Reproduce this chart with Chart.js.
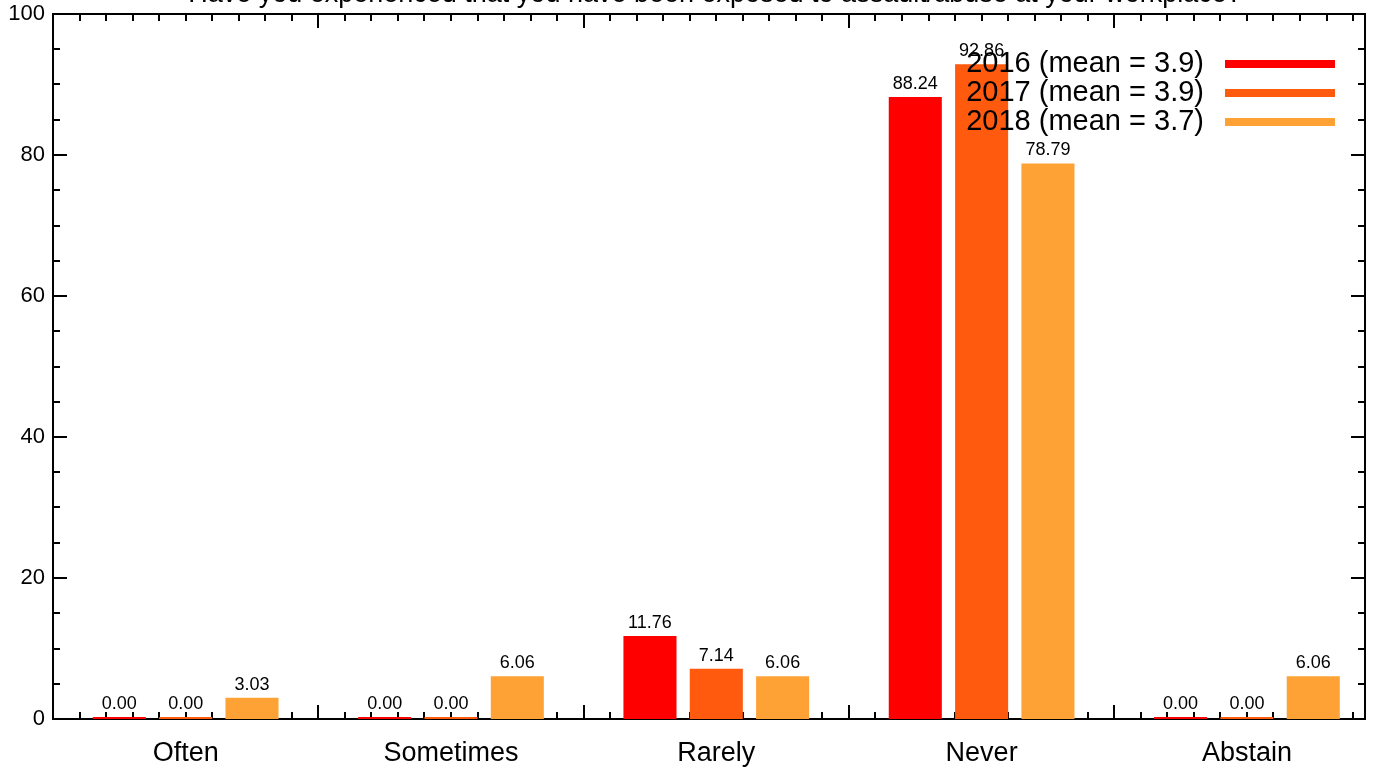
<!DOCTYPE html>
<html>
<head>
<meta charset="utf-8">
<script src="https://cdn.jsdelivr.net/npm/chart.js@4"></script>
<style>
    html, body { margin: 0; padding: 0; background: #fff; }
    #wrap { width: 1389px; height: 771px; }
</style>
</head>
<body>
<div id="wrap"><canvas id="chart" width="1389" height="771"></canvas></div>
<script>
const categories = ['Often', 'Sometimes', 'Rarely', 'Never', 'Abstain'];
const years = ['2016', '2017', '2018'];
const means = [3.9, 3.9, 3.7];
const values2016 = [0.00, 0.00, 11.76, 88.24, 0.00];
const values2017 = [0.00, 0.00, 7.14, 92.86, 0.00];
const values2018 = [3.03, 6.06, 6.06, 78.79, 6.06];
const colors = ['#ff0000', '#ff5a0d', '#ffa235'];
const titleText = 'Have you experienced that you have been exposed to assault/abuse at your workplace?';

const FONT = '"Liberation Sans", Arial, sans-serif';
const X_MAX = 4.945; // original x axis range, categories sit at 0.5, 1.5, ...

// IDL style frame with inward ticks on all four sides
const framePlugin = {
    id: 'frame',
    beforeDatasetsDraw(chart) {
        const ctx = chart.ctx;
        const a = chart.chartArea;
        const x = chart.scales.x;
        const y = chart.scales.y;
        ctx.save();
        ctx.strokeStyle = '#000';
        ctx.lineWidth = 2;
        ctx.strokeRect(a.left, a.top, a.right - a.left, a.bottom - a.top);

        // y ticks: major every 20, minor every 5
        for (let v = 0; v <= 100; v += 5) {
            const py = Math.round(y.getPixelForValue(v));
            const len = v % 20 === 0 ? 14 : 7;
            ctx.beginPath();
            ctx.moveTo(a.left, py); ctx.lineTo(a.left + len, py);
            ctx.moveTo(a.right, py); ctx.lineTo(a.right - len, py);
            ctx.stroke();
        }

        // x ticks: major every 1, minor every 0.1
        for (let i = 1; i / 10 < X_MAX; i++) {
            const px = Math.round(x.getPixelForValue(i / 10));
            const len = i % 10 === 0 ? 14 : 7;
            ctx.beginPath();
            ctx.moveTo(px, a.bottom); ctx.lineTo(px, a.bottom - len);
            ctx.moveTo(px, a.top); ctx.lineTo(px, a.top + len);
            ctx.stroke();
        }
        ctx.restore();
    },
    afterDatasetsDraw(chart) {
        const ctx = chart.ctx;
        ctx.save();
        ctx.fillStyle = '#000';
        ctx.font = '18px ' + FONT;
        ctx.textAlign = 'center';
        ctx.textBaseline = 'bottom';
        chart.data.datasets.forEach((ds, di) => {
            chart.getDatasetMeta(di).data.forEach((bar, i) => {
                ctx.fillText(ds.data[i].y.toFixed(2), bar.x, bar.y - 4);
            });
        });
        ctx.restore();
    },
    afterDraw(chart) {
        const ctx = chart.ctx;
        ctx.save();
        // title, cut off at the top edge like the original
        ctx.fillStyle = '#000';
        ctx.font = '27px ' + FONT;
        ctx.textAlign = 'center';
        ctx.textBaseline = 'alphabetic';
        ctx.fillText(titleText, 715, 2);

        // legend
        ctx.font = '29px ' + FONT;
        ctx.textAlign = 'right';
        ctx.textBaseline = 'middle';
        const rows = [64, 93, 122];
        years.forEach((yr, i) => {
            ctx.fillStyle = '#000';
            ctx.fillText(yr + ' (mean = ' + means[i].toFixed(1) + ')', 1204, rows[i]);
            ctx.fillStyle = colors[i];
            ctx.fillRect(1225, rows[i] - 4, 110, 8);
        });
        ctx.restore();
    }
};

const seriesValues = [values2016, values2017, values2018];

new Chart(document.getElementById('chart'), {
    type: 'bar',
    data: {
        datasets: years.map((yr, i) => ({
            label: yr,
            data: seriesValues[i].map((v, k) => ({ x: k + 0.5, y: v })),
            backgroundColor: colors[i],
            borderWidth: 0,
            minBarLength: 2,
            categoryPercentage: 0.75,
            barPercentage: 0.8
        }))
    },
    options: {
        responsive: false,
        animation: false,
        layout: { padding: { top: 14, right: 24, left: 0, bottom: 0 } },
        plugins: {
            legend: { display: false },
            tooltip: { enabled: false },
            title: { display: false }
        },
        scales: {
            x: {
                type: 'linear',
                min: 0,
                max: X_MAX,
                offset: false,
                grid: { display: false, drawTicks: false },
                border: { display: false },
                afterBuildTicks(scale) {
                    scale.ticks = categories.map((c, k) => ({ value: k + 0.5 }));
                },
                ticks: {
                    color: '#000',
                    font: { family: FONT, size: 27 },
                    padding: 18,
                    maxRotation: 0,
                    autoSkip: false,
                    callback: (value) => categories[Math.round(value - 0.5)]
                },
                afterFit(scale) {
                    scale.height = 52;
                    scale.paddingLeft = 0;
                    scale.paddingRight = 0;
                }
            },
            y: {
                min: 0,
                max: 100,
                grid: { display: false, drawTicks: false },
                border: { display: false },
                ticks: {
                    stepSize: 20,
                    color: '#000',
                    font: { family: FONT, size: 22 },
                    padding: 8
                },
                afterFit(scale) {
                    scale.width = 53;
                    scale.paddingTop = 0;
                    scale.paddingBottom = 0;
                }
            }
        }
    },
    plugins: [framePlugin]
});
</script>
</body>
</html>
